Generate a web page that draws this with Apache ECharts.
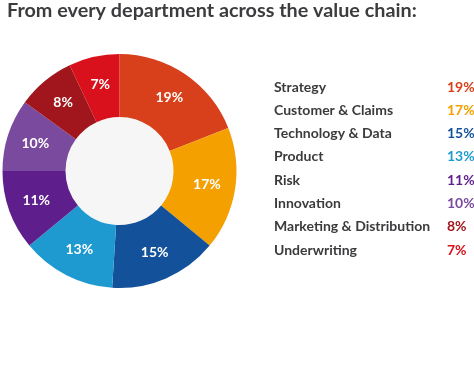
<!DOCTYPE html>
<html><head><meta charset="utf-8">
<script src="https://cdn.jsdelivr.net/npm/echarts@6/dist/echarts.min.js"></script>
<style>html,body{margin:0;padding:0;background:#fff}#c{width:474px;height:389px}</style>
</head><body><div id="c"></div>
<script>
const categories = ["Strategy","Customer & Claims","Technology & Data","Product","Risk","Innovation","Marketing & Distribution","Underwriting"];
const values = [19,17,15,13,11,10,8,7];
const colors = ["#d8401c","#f4a000","#13519b","#1f9ad0","#5e1e8b","#7a4a9e","#a0161c","#d8111d"];

const chart = echarts.init(document.getElementById('c'));
const rich = {n:{fontFamily:'Lato',fontWeight:'bold',fontSize:14,lineHeight:14,color:'#3b3b3d',width:173}};
colors.forEach((c,i)=>{rich['p'+i]={fontFamily:'Lato',fontWeight:'bold',fontSize:14,lineHeight:14,color:c};});

chart.setOption({
  animation:false,
  title:{text:'From every department across the value chain:',left:7,top:1,padding:0,
    textStyle:{fontFamily:'Lato',fontWeight:'bold',fontSize:19.8,color:'#3c3c3e'}},
  legend:{orient:'vertical',left:269,top:80,padding:0,itemGap:9.3,icon:'none',itemWidth:0,itemHeight:14,
    selectedMode:false,
    data:categories,
    formatter:function(name){const i=categories.indexOf(name);return '{n|'+name+'}{p'+i+'|'+values[i]+'%}';},
    textStyle:{rich:rich}},
  series:[
    {type:'pie',silent:true,center:[119.5,171],radius:[0,54],label:{show:false},
     data:[{value:1,itemStyle:{color:'#f6f6f7'}}]},
    {type:'pie',center:[119.5,171],radius:[54,117],startAngle:90,clockwise:true,
     avoidLabelOverlap:false,
     label:{show:true,position:'inside',formatter:'{c}%',color:'#fff',fontFamily:'Lato',fontWeight:'bold',fontSize:14},
     labelLine:{show:false},
     data:categories.map((n,i)=>({name:n,value:values[i],itemStyle:{color:colors[i]}}))}
  ]
});
</script></body></html>
